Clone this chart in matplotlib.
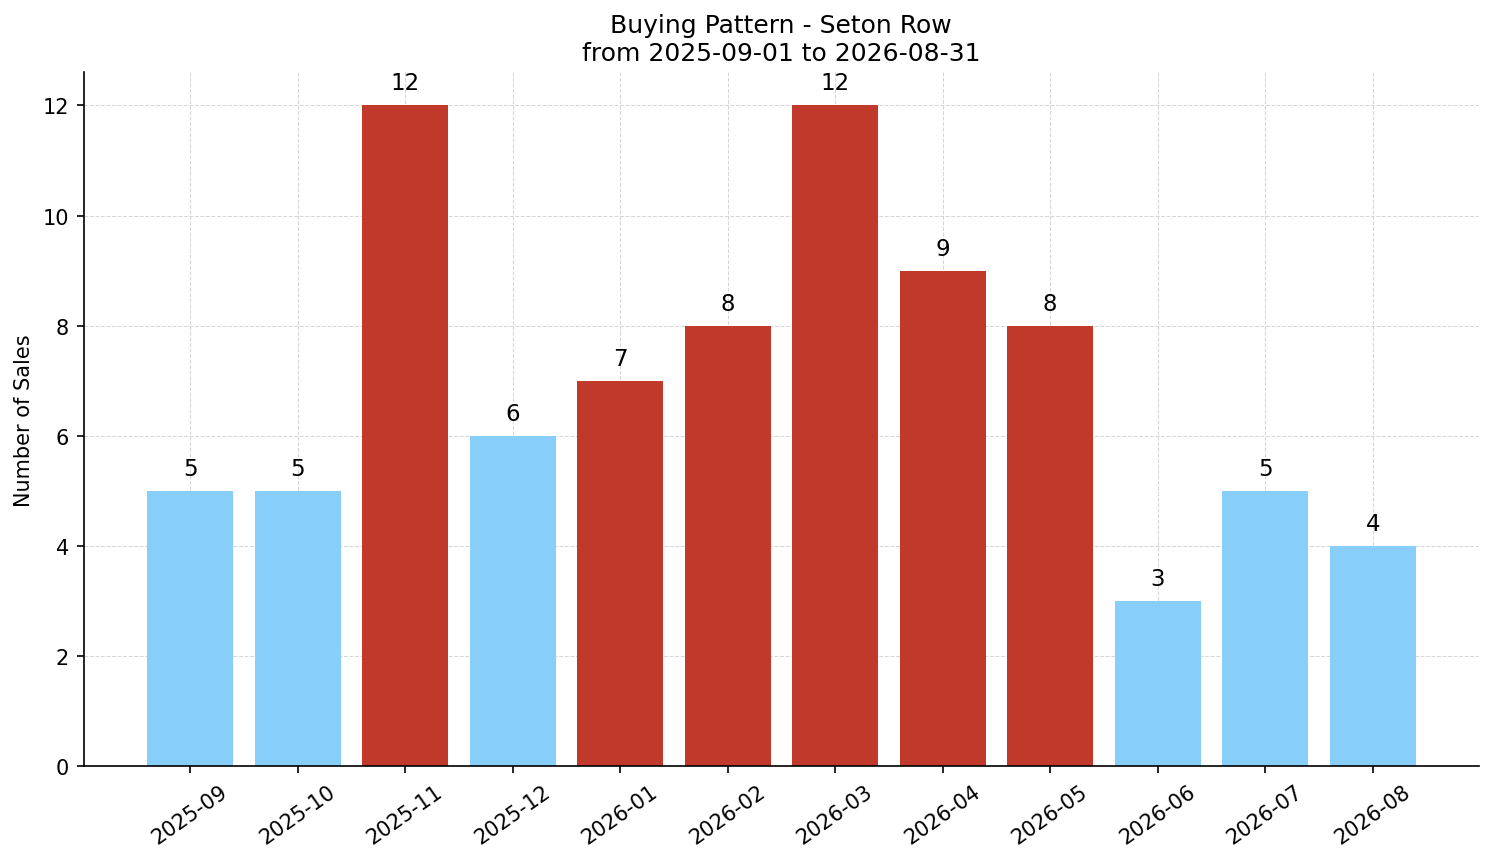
import matplotlib.pyplot as plt

months = ['2025-09', '2025-10', '2025-11', '2025-12', '2026-01', '2026-02',
          '2026-03', '2026-04', '2026-05', '2026-06', '2026-07', '2026-08']
sales = [5, 5, 12, 6, 7, 8, 12, 9, 8, 3, 5, 4]
threshold = 7  # months at or above this are highlighted

colors = ['#c0392b' if s >= threshold else '#87cefa' for s in sales]

fig = plt.figure(figsize=(9.96, 5.753), dpi=150)
ax = fig.add_axes([0.056, 0.111, 0.934, 0.804])

bars = ax.bar(months, sales, color=colors, width=0.8, zorder=2)
for b, s in zip(bars, sales):
    ax.text(b.get_x() + b.get_width() / 2, s + 0.2, str(s),
            ha='center', va='bottom', fontsize=11)

ax.set_ylim(0, 12.6)
ax.set_ylabel('Number of Sales', fontsize=10)
ax.set_title('Buying Pattern - Seton Row\nfrom 2025-09-01 to 2026-08-31', fontsize=12)
ax.grid(True, linestyle='--', linewidth=0.5, color='#cccccc', alpha=0.8, zorder=0)
ax.spines['top'].set_visible(False)
ax.spines['right'].set_visible(False)
plt.setp(ax.get_xticklabels(), rotation=35)
ax.tick_params(labelsize=10)

fig.savefig('out.png', dpi=150)
